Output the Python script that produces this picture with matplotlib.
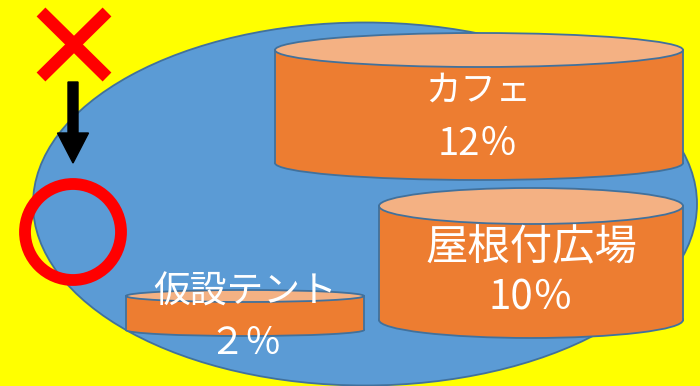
import matplotlib
matplotlib.use("Agg")
import matplotlib.pyplot as plt
from matplotlib.patches import Ellipse, Rectangle, Circle, FancyArrow

# ---- data ----
categories = ["カフェ", "屋根付広場", "仮設テント"]
values = [12, 10, 2]
pct_labels = ["12％", "10％", "２％"]

# ---- layout (pixel coordinates) ----
cyl_x0 = [275, 379, 126]
cyl_x1 = [683, 683, 364]
cyl_top = [50, 206, 296]
cyl_bot = [163, 320, 330]
cyl_hh = [17, 18, 6]
name_pos = [(478, 91), (531, 248), (245, 292)]
pct_pos = [(478, 144), (531, 298), (245, 343)]
name_size = [25.5, 30.5, 26.5]
pct_size = [27.5, 29, 26.5]

YELLOW = "#FFFF00"
BLUE = "#5B9BD5"
EDGE = "#41719C"
ORANGE = "#ED7D31"
LIGHT = "#F4B183"
FAM = ["Noto Sans CJK JP", "DejaVu Sans"]

fig = plt.figure(figsize=(7.0, 3.86), dpi=100)
fig.patch.set_facecolor(YELLOW)
ax = fig.add_axes([0, 0, 1, 1])
ax.set_xlim(0, 700)
ax.set_ylim(386, 0)
ax.axis("off")
ax.set_facecolor(YELLOW)

# big blue ellipse
ax.add_patch(Ellipse((365, 204), 664, 363, facecolor=BLUE, edgecolor=EDGE, lw=1.3, zorder=1))

# cylinders
for i, v in enumerate(values):
    x0, x1 = cyl_x0[i], cyl_x1[i]
    cx = (x0 + x1) / 2
    w = x1 - x0
    yt, yb, hh = cyl_top[i], cyl_bot[i], cyl_hh[i]
    ax.add_patch(Ellipse((cx, yb), w, 2 * hh, facecolor=ORANGE, edgecolor=EDGE, lw=1.3, zorder=2))
    ax.add_patch(Rectangle((x0, yt), w, yb - yt, facecolor=ORANGE, edgecolor="none", zorder=3))
    ax.plot([x0, x0], [yt, yb], color=EDGE, lw=1.3, zorder=4)
    ax.plot([x1, x1], [yt, yb], color=EDGE, lw=1.3, zorder=4)
    ax.add_patch(Ellipse((cx, yt), w, 2 * hh, facecolor=LIGHT, edgecolor=EDGE, lw=1.3, zorder=5))

for i, name in enumerate(categories):
    ax.text(*name_pos[i], name, color="white", fontsize=name_size[i], family=FAM,
            ha="center", va="center", zorder=10)
    ax.text(*pct_pos[i], pct_labels[i], color="white", fontsize=pct_size[i], family=FAM,
            ha="center", va="center", zorder=10)

# red X
ax.plot([41, 107], [12, 77], color="#FF0000", lw=9, solid_capstyle="butt", zorder=6)
ax.plot([41, 107], [77, 12], color="#FF0000", lw=9, solid_capstyle="butt", zorder=6)

# black arrow
ax.add_patch(FancyArrow(73, 82, 0, 81, width=10, head_width=31, head_length=30,
                        length_includes_head=True, color="black", zorder=6))

# red circle
ax.add_patch(Circle((73, 232), 48, facecolor="none", edgecolor="#FF0000", lw=8.5, zorder=6))

fig.savefig("out.png", dpi=100, facecolor=YELLOW)
